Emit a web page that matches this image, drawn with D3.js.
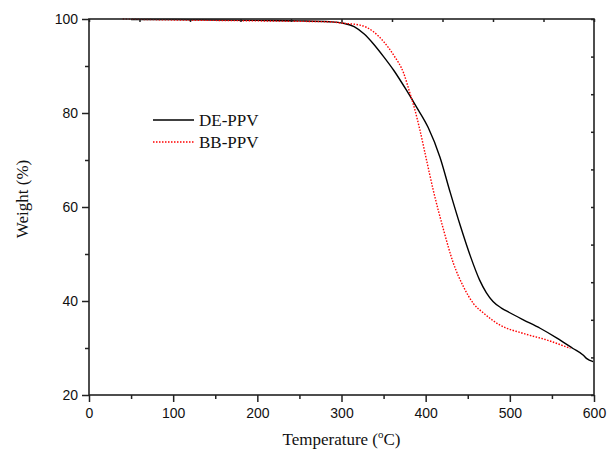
<!DOCTYPE html>
<html>
<head>
<meta charset="utf-8">
<script src="https://cdn.jsdelivr.net/npm/d3@7"></script>
<style>
  body { margin: 0; background: #fff; }
  .tick text { font-family: "Liberation Sans", Arial, sans-serif; font-size: 14px; fill: #111; }
  .axis path, .axis line { stroke: #222; }
  .ttl { font-family: "Liberation Serif", "Times New Roman", serif; font-size: 17px; fill: #111; }
</style>
</head>
<body>
<svg id="chart" width="607" height="453"></svg>
<script>
// DE-PPV (black solid)
const deTemp = [50, 100, 150, 200, 250, 286, 302, 315, 327, 337, 350, 362, 377, 389, 403, 417, 429, 441, 453, 464, 472, 480, 490, 500, 516, 536, 556, 575, 587, 591, 599];
const deWeight = [99.9, 99.9, 99.8, 99.7, 99.6, 99.4, 99.1, 98.4, 96.8, 94.9, 92.0, 89.1, 84.9, 81.3, 76.9, 70.6, 63.2, 56.1, 49.6, 44.5, 41.8, 39.9, 38.5, 37.5, 36.0, 34.2, 32.1, 29.9, 28.5, 27.8, 27.1];

// BB-PPV (red dotted)
const bbTemp = [40, 100, 150, 200, 250, 286, 302, 322, 338, 350, 362, 374, 381, 387, 393, 401, 409, 421, 433, 445, 457, 469, 488, 516, 544, 572];
const bbWeight = [100, 99.8, 99.7, 99.6, 99.5, 99.4, 99.1, 98.7, 97.3, 95.2, 92.3, 88.4, 84.4, 80.8, 76.5, 70.0, 63.6, 55.3, 48.0, 43.0, 39.4, 37.4, 34.9, 33.1, 31.7, 29.9];

const xMajor = [0, 100, 200, 300, 400, 500, 600];
const xMinor = [50, 150, 250, 350, 450, 550];
const yMajor = [20, 40, 60, 80, 100];
const yMinor = [30, 50, 70, 90];
const topTicks = d3.range(0, 601, 60);
const rightTicks = d3.range(20, 101, 8);

const seriesNames = ['DE-PPV', 'BB-PPV'];

const svg = d3.select('#chart');
const m = {l: 89, r: 594, t: 19, b: 395};

const x = d3.scaleLinear().domain([0, 600]).range([m.l, m.r]);
const y = d3.scaleLinear().domain([20, 100]).range([m.b, m.t]);

const series = [
	{name: seriesNames[0], pts: deTemp.map((t, i) => [t, deWeight[i]]), color: '#000', dash: null},
	{name: seriesNames[1], pts: bbTemp.map((t, i) => [t, bbWeight[i]]), color: '#ff0000', dash: '1.5,1.5'}
];

const line = d3.line()
	.x(d => x(d[0]))
	.y(d => y(d[1]))
	.curve(d3.curveMonotoneX);

// curves
svg.selectAll('.curve')
	.data(series).enter()
	.append('path')
	.attr('class', 'curve')
	.attr('d', d => line(d.pts))
	.attr('fill', 'none')
	.attr('stroke', d => d.color)
	.attr('stroke-width', 1.4)
	.attr('stroke-dasharray', d => d.dash);

// axes - minor first so major draws on top
function noDomain(g) { g.select('.domain').remove(); }

svg.append('g').attr('class', 'axis')
	.attr('transform', 'translate(0,' + m.b + ')')
	.call(d3.axisBottom(x).tickValues(xMinor).tickSize(4).tickFormat(''))
	.call(noDomain);
svg.append('g').attr('class', 'axis')
	.attr('transform', 'translate(0,' + m.b + ')')
	.call(d3.axisBottom(x).tickValues(xMajor).tickSize(7).tickPadding(6))
	.call(noDomain);

svg.append('g').attr('class', 'axis')
	.attr('transform', 'translate(' + m.l + ',0)')
	.call(d3.axisLeft(y).tickValues(yMinor).tickSize(4).tickFormat(''))
	.call(noDomain);
svg.append('g').attr('class', 'axis')
	.attr('transform', 'translate(' + m.l + ',0)')
	.call(d3.axisLeft(y).tickValues(yMajor).tickSize(7).tickPadding(4))
	.call(noDomain);

svg.append('g').attr('class', 'axis')
	.attr('transform', 'translate(0,' + m.t + ')')
	.call(d3.axisTop(x).tickValues(topTicks).tickSize(-3).tickFormat(''))
	.call(noDomain);
svg.append('g').attr('class', 'axis')
	.attr('transform', 'translate(' + m.r + ',0)')
	.call(d3.axisRight(y).tickValues(rightTicks).tickSize(-3).tickFormat(''))
	.call(noDomain);

svg.selectAll('.axis line').attr('stroke-width', 1.5);

// frame
svg.append('rect')
	.attr('x', m.l).attr('y', m.t)
	.attr('width', m.r - m.l).attr('height', m.b - m.t)
	.attr('fill', 'none')
	.attr('stroke', '#222')
	.attr('stroke-width', 1.6);

// axis titles
svg.append('text')
	.attr('class', 'ttl')
	.attr('transform', 'translate(28,199) rotate(-90)')
	.attr('text-anchor', 'middle')
	.text('Weight (%)');

const xt = svg.append('text')
	.attr('class', 'ttl')
	.attr('x', (m.l + m.r) / 2)
	.attr('y', 445)
	.attr('text-anchor', 'middle');
xt.append('tspan').text('Temperature (');
xt.append('tspan').attr('font-size', '11px').attr('dy', -7).text('o');
xt.append('tspan').attr('dy', 7).text('C)');

// legend
const lg = svg.append('g').attr('transform', 'translate(153,120)');
const items = lg.selectAll('.lg_item')
	.data(series).enter()
	.append('g')
	.attr('class', 'lg_item')
	.attr('transform', (d, i) => 'translate(0,' + (i * 22) + ')');
items.append('line')
	.attr('x1', 0).attr('x2', 41)
	.attr('stroke', d => d.color)
	.attr('stroke-width', 1.4)
	.attr('stroke-dasharray', d => d.dash);
items.append('text')
	.attr('class', 'ttl')
	.attr('x', 46)
	.attr('y', 6)
	.text(d => d.name);
</script>
</body>
</html>
